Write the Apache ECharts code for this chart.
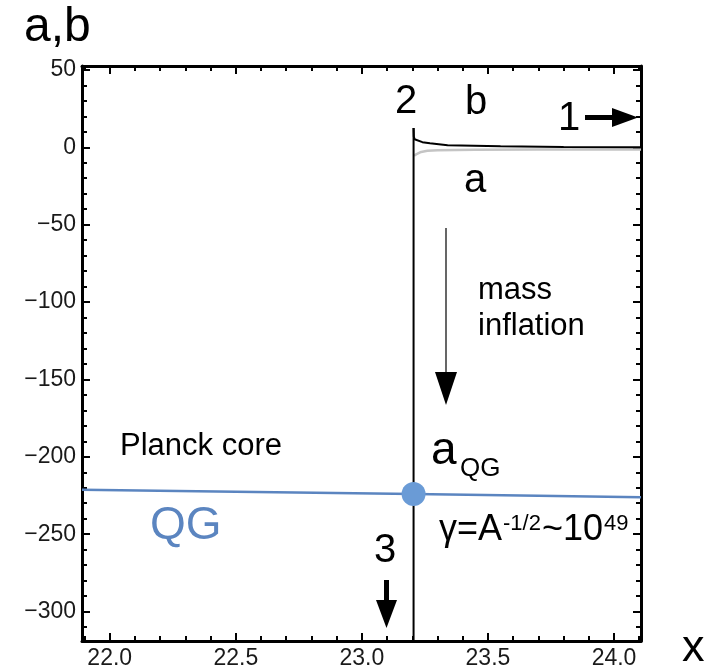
<!DOCTYPE html>
<html>
<head>
<meta charset="utf-8">
<script src="https://cdn.jsdelivr.net/npm/echarts@6/dist/echarts.min.js"></script>
<style>html,body{margin:0;padding:0;background:#fff}#c{width:719px;height:672px}</style>
</head>
<body>
<div id="c"></div>
<script>
// ---- data ----
const xRange = [21.89, 24.107];
const yRange = [-319, 52.5];
const xMajorTicks = [22.0, 22.5, 23.0, 23.5, 24.0];
const xMinorTicks = [21.9, 22.1, 22.2, 22.3, 22.4, 22.6, 22.7, 22.8, 22.9, 23.1, 23.2, 23.3, 23.4, 23.6, 23.7, 23.8, 23.9, 24.1];
const yMajorTicks = [50, 0, -50, -100, -150, -200, -250, -300];
const yMinorTicks = [40, 30, 20, 10, -10, -20, -30, -40, -60, -70, -80, -90, -110, -120, -130, -140, -160, -170, -180, -190, -210, -220, -230, -240, -260, -270, -280, -290, -310];
const bCurve = [[23.205, 12.5], [23.206, 7], [23.209, 5.2], [23.213, 4.5], [23.24, 3.3], [23.27, 2.6], [23.34, 1.3], [23.55, 0.6], [23.8, 0.2], [24.107, 0]];
const aCurve = [[23.207, -5.5], [23.215, -4.6], [23.235, -3.0], [23.26, -2.3], [23.3, -1.9], [23.45, -1.6], [23.7, -1.5], [24.107, -1.4]];
const jumpLine = [[23.205, 12.5], [23.205, -330]];
const qgLine = [[21.89, -221.2], [22.5, -222.5], [23.205, -224.0], [23.7, -225.1], [24.107, -226.1]];
const qgPoint = [[23.205, -224.0]];

const FONT = '"Liberation Sans", Arial, sans-serif';
const minus = v => (v < 0 ? '\u2212' + Math.abs(v) : String(v));

function axisPair(kind, pos, ticks, len, showLabel, formatter, idx) {
  return {
    type: 'value', position: pos,
    min: kind === 'x' ? xRange[0] : yRange[0],
    max: kind === 'x' ? xRange[1] : yRange[1],
    axisLine: { show: idx === 0, onZero: false, lineStyle: { color: '#000', width: 3 } },
    axisTick: { show: true, inside: true, length: len, customValues: ticks, lineStyle: { color: '#000', width: 2 } },
    axisLabel: showLabel ? {
      show: true, customValues: ticks, formatter: formatter, color: '#1a1a1a',
      fontSize: 23, fontFamily: FONT, margin: 6
    } : { show: false },
    splitLine: { show: false }
  };
}

const chart = echarts.init(document.getElementById('c'), null, { renderer: 'canvas' });

const tfont = (s) => 'normal ' + s + 'px ' + FONT;
function txt(text, x, y, size, opts) {
  opts = opts || {};
  return {
    type: 'text', x: x, y: y, z: 100,
    style: {
      text: text, font: tfont(size), fill: opts.fill || '#000',
      align: opts.align || 'left', verticalAlign: opts.va || 'middle'
    }
  };
}
const mctx = document.createElement('canvas').getContext('2d');
function w(text, size) { mctx.font = tfont(size); return mctx.measureText(text).width; }

// gamma line composed
const gx = 439, gy = 548;
const g1 = '\u03b3=A', g2 = '-1/2', g3 = '~10', g4 = '49';
const gx2 = gx + w(g1, 36) + 1;
const gx3 = gx2 + w(g2, 22) + 1;
const gx4 = gx3 + w(g3, 36) + 1;

const graphics = [
  txt('a,b', 24, 28, 48),
  txt('x', 682, 649, 45),
  txt('2', 406, 102, 40, { align: 'center' }),
  txt('b', 476, 103, 40, { align: 'center' }),
  txt('1', 569, 119, 40, { align: 'center' }),
  txt('a', 475, 181, 40, { align: 'center' }),
  txt('mass', 478, 290, 31),
  txt('inflation', 478, 326, 31),
  txt('Planck core', 120, 446, 31),
  txt('QG', 150, 526, 46, { fill: '#5b85c0' }),
  txt('a', 431, 451, 46),
  txt('QG', 460, 469, 26),
  txt(g1, gx, gy, 36, { va: 'bottom' }),
  txt(g2, gx2, gy - 13, 22, { va: 'bottom' }),
  txt(g3, gx3, gy, 36, { va: 'bottom' }),
  txt(g4, gx4, gy - 13, 22, { va: 'bottom' }),
  txt('3', 385, 551, 40, { align: 'center' }),
  // arrow 1
  { type: 'rect', z: 100, shape: { x: 585, y: 115, width: 30, height: 5 }, style: { fill: '#000' } },
  { type: 'polygon', z: 100, shape: { points: [[612, 108], [638, 117.5], [612, 127]] }, style: { fill: '#000' } },
  // arrow 3
  { type: 'rect', z: 100, shape: { x: 384, y: 580, width: 5, height: 22 }, style: { fill: '#000' } },
  { type: 'polygon', z: 100, shape: { points: [[376, 600], [397, 600], [386.5, 628]] }, style: { fill: '#000' } },
  // mass inflation arrow
  { type: 'line', z: 100, shape: { x1: 446, y1: 228, x2: 446, y2: 375 }, style: { stroke: '#000', lineWidth: 1.2 } },
  { type: 'polygon', z: 100, shape: { points: [[435, 372], [457, 372], [446, 405]] }, style: { fill: '#000' } }
];

const option = {
  backgroundColor: '#fff',
  animation: false,
  grid: { left: 82, right: 78, top: 66, bottom: 31, containLabel: false },
  xAxis: [
    axisPair('x', 'bottom', xMajorTicks, 8, true, v => Number(v).toFixed(1), 0),
    axisPair('x', 'bottom', xMinorTicks, 5, false, null, 1),
    axisPair('x', 'top', xMajorTicks, 8, false, null, 0),
    axisPair('x', 'top', xMinorTicks, 5, false, null, 1)
  ],
  yAxis: [
    axisPair('y', 'left', yMajorTicks, 8, true, minus, 0),
    axisPair('y', 'left', yMinorTicks, 5, false, null, 1),
    axisPair('y', 'right', yMajorTicks, 8, false, null, 0),
    axisPair('y', 'right', yMinorTicks, 5, false, null, 1)
  ],
  series: [
    { type: 'line', data: qgLine, showSymbol: false, lineStyle: { color: '#5b85c0', width: 2.5 }, z: 3, clip: true },
    { type: 'line', data: aCurve, showSymbol: false, lineStyle: { color: '#c4c4c4', width: 2.5 }, z: 3, clip: true },
    { type: 'line', data: jumpLine, showSymbol: false, lineStyle: { color: '#000', width: 2 }, z: 4, clip: true },
    { type: 'line', data: bCurve, showSymbol: false, lineStyle: { color: '#000', width: 2 }, z: 4, clip: true },
    { type: 'scatter', data: qgPoint, symbolSize: 24, itemStyle: { color: '#6a9bd6', opacity: 1 }, z: 6 }
  ],
  graphic: graphics
};
chart.setOption(option);
</script>
</body>
</html>
